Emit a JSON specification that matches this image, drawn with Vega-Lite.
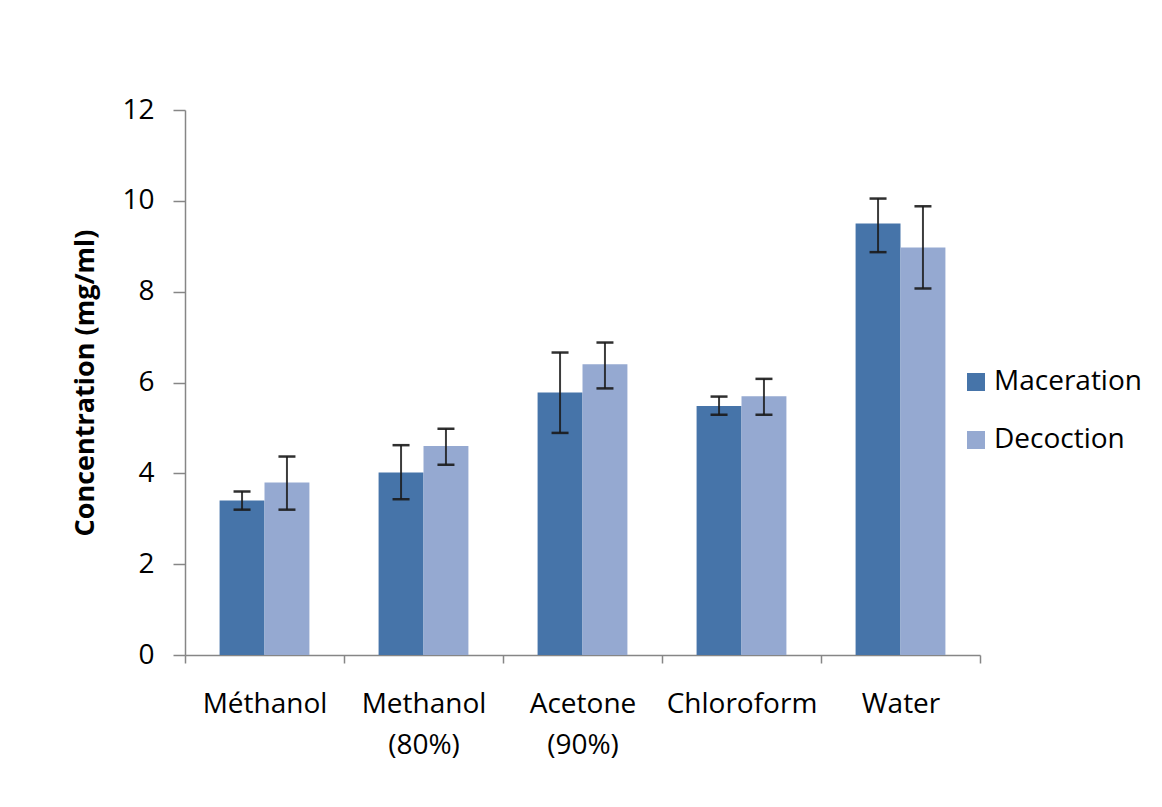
{
  "$schema": "https://vega.github.io/schema/vega-lite/v6.json",
  "autosize": "none",
  "width": 795,
  "height": 545,
  "padding": {"left": 185, "top": 110, "right": 182, "bottom": 152},
  "background": "white",
  "config": {
    "view": {"stroke": null},
    "font": "Open Sans"
  },
  "data": {
    "values": [
      {"solvent": "Méthanol", "method": "Maceration", "value": 3.4, "lo": 3.2, "hi": 3.6},
      {"solvent": "Méthanol", "method": "Decoction", "value": 3.8, "lo": 3.2, "hi": 4.37},
      {"solvent": "Methanol (80%)", "method": "Maceration", "value": 4.02, "lo": 3.43, "hi": 4.62},
      {"solvent": "Methanol (80%)", "method": "Decoction", "value": 4.6, "lo": 4.19, "hi": 4.98},
      {"solvent": "Acetone (90%)", "method": "Maceration", "value": 5.78, "lo": 4.89, "hi": 6.66},
      {"solvent": "Acetone (90%)", "method": "Decoction", "value": 6.4, "lo": 5.87, "hi": 6.88},
      {"solvent": "Chloroform", "method": "Maceration", "value": 5.48, "lo": 5.29, "hi": 5.69},
      {"solvent": "Chloroform", "method": "Decoction", "value": 5.7, "lo": 5.29, "hi": 6.08},
      {"solvent": "Water", "method": "Maceration", "value": 9.5, "lo": 8.87, "hi": 10.05},
      {"solvent": "Water", "method": "Decoction", "value": 8.97, "lo": 8.07, "hi": 9.88}
    ]
  },
  "encoding": {
    "x": {
      "field": "solvent",
      "type": "nominal",
      "sort": ["Méthanol", "Methanol (80%)", "Acetone (90%)", "Chloroform", "Water"],
      "scale": {"paddingInner": 0, "paddingOuter": 0},
      "axis": {
        "title": null,
        "labelAngle": 0,
        "labelExpr": "split(datum.label, ' ')",
        "labelFontSize": 28,
        "labelColor": "#000000",
        "labelLineHeight": 41,
        "labelPadding": 27,
        "labelBaseline": "top",
        "domainColor": "#868686",
        "domainWidth": 1.5,
        "tickColor": "#868686",
        "tickWidth": 1.5,
        "tickSize": 8,
        "tickBand": "extent"
      }
    },
    "xOffset": {
      "field": "method",
      "type": "nominal",
      "sort": ["Maceration", "Decoction"],
      "scale": {"paddingInner": 0, "paddingOuter": 0.77}
    }
  },
  "layer": [
    {
      "mark": {"type": "bar"},
      "encoding": {
        "y": {
          "field": "value",
          "type": "quantitative",
          "scale": {"domain": [0, 12]},
          "axis": {
            "title": "Concentration (mg/ml)",
            "titleFontSize": 27,
            "titleFontWeight": "bold",
            "titleColor": "#000000",
            "titlePadding": 22,
            "values": [0, 2, 4, 6, 8, 10, 12],
            "grid": false,
            "labelFontSize": 28,
            "labelColor": "#000000",
            "labelPadding": 19,
            "domainColor": "#868686",
            "domainWidth": 1.5,
            "tickColor": "#868686",
            "tickWidth": 1.5,
            "tickSize": 12
          }
        },
        "color": {
          "field": "method",
          "type": "nominal",
          "sort": ["Maceration", "Decoction"],
          "scale": {"domain": ["Maceration", "Decoction"], "range": ["#4674A9", "#95A9D1"]},
          "legend": {
            "title": null,
            "orient": "none",
            "legendX": 777,
            "legendY": 258,
            "symbolType": "square",
            "symbolSize": 324,
            "symbolStrokeWidth": 0,
            "labelFontSize": 28,
            "labelColor": "#000000",
            "labelOffset": 4,
            "rowPadding": 30
          }
        }
      }
    },
    {
      "mark": {"type": "rule", "color": "#1a1a1a", "strokeWidth": 2, "opacity": 0.85},
      "encoding": {
        "y": {"field": "lo", "type": "quantitative"},
        "y2": {"field": "hi"}
      }
    },
    {
      "mark": {"type": "tick", "color": "#1a1a1a", "thickness": 2.5, "size": 17, "opacity": 0.9},
      "encoding": {
        "y": {"field": "lo", "type": "quantitative"}
      }
    },
    {
      "mark": {"type": "tick", "color": "#1a1a1a", "thickness": 2.5, "size": 17, "opacity": 0.9},
      "encoding": {
        "y": {"field": "hi", "type": "quantitative"}
      }
    }
  ]
}
